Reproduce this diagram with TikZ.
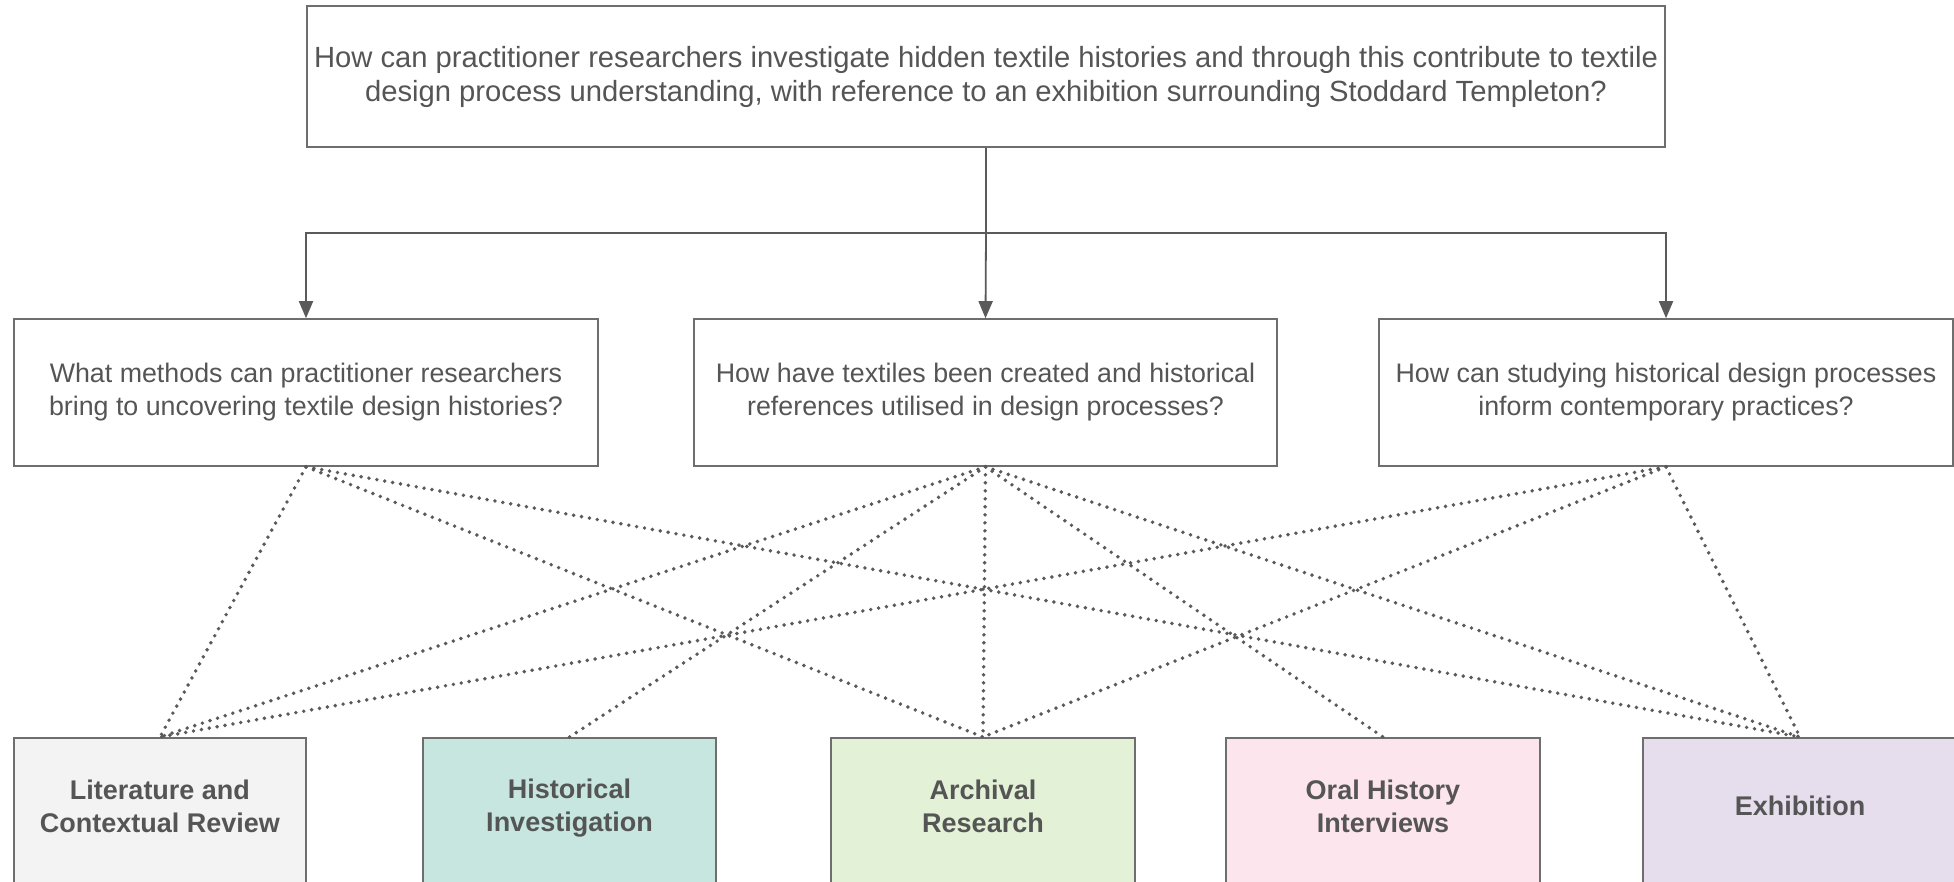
\documentclass[tikz,border=0pt]{standalone}
\usepackage{fontspec}
\setmainfont{Liberation Sans}
\usetikzlibrary{arrows.meta}
\definecolor{linegray}{HTML}{5A5A5A}
\definecolor{boxgray}{HTML}{6E6E6E}
\definecolor{txtgray}{HTML}{555555}
\definecolor{litfill}{HTML}{F3F3F3}
\definecolor{histfill}{HTML}{C6E6DF}
\definecolor{archfill}{HTML}{E3F1D6}
\definecolor{oralfill}{HTML}{FCE5ED}
\definecolor{exhfill}{HTML}{E6DDED}
\tikzset{
  qbox/.style={draw=boxgray, line width=1.6, fill=white, inner sep=0, align=center,
    text=txtgray, font=\fontsize{26.8}{33}\selectfont},
  topbox/.style={qbox, font=\fontsize{29.2}{34}\selectfont},
  mbox/.style={draw=boxgray, line width=1.8, inner sep=0, anchor=north, minimum height=170},
  mtext/.style={inner sep=0, align=center, text=txtgray, font=\bfseries\fontsize{27}{33}\selectfont},
  solidlink/.style={draw=linegray, line width=1.8, -{Triangle[width=14,length=17]}},
  dotlink/.style={draw=linegray, line width=3.9, line cap=round, dash pattern=on 0pt off 8pt}
}
\begin{document}
\begin{tikzpicture}[x=1pt, y=-1pt]
\useasboundingbox (0,0) rectangle (1954,881);
\fill[white] (0,0) rectangle (1954,881);
% top question
\node[topbox, minimum width=1358, minimum height=141] (top) at (986,76.5)
  {How can practitioner researchers investigate hidden textile histories and through this contribute to textile\\design process understanding, with reference to an exhibition surrounding Stoddard Templeton?};
% sub questions
\node[qbox, minimum width=584, minimum height=147] (q1) at (306,392.5)
  {What methods can practitioner researchers\\bring to uncovering textile design histories?};
\node[qbox, minimum width=583, minimum height=147] (q2) at (985.5,392.5)
  {How have textiles been created and historical\\references utilised in design processes?};
\node[qbox, minimum width=574, minimum height=147] (q3) at (1666,392.5)
  {How can studying historical design processes\\inform contemporary practices?};
% solid connectors
\coordinate (hub) at (986,233);
\draw[linegray, line width=1.8] (top.south) -- (hub);
\draw[solidlink] (hub) -| (q1.north);
\draw[solidlink] (hub) -- (q2.north);
\draw[solidlink] (hub) -| (q3.north);
% method boxes
\node[mbox, fill=litfill, minimum width=292] (lit) at (160,737) {};
\node[mbox, fill=histfill, minimum width=293] (hist) at (569.5,737) {};
\node[mbox, fill=archfill, minimum width=304] (arch) at (983,737) {};
\node[mbox, fill=oralfill, minimum width=314] (oral) at (1383,737) {};
\node[mbox, fill=exhfill, minimum width=314] (exh) at (1800,737) {};
\node[mtext] (littext) at (160,806) {Literature and\\Contextual Review};
\node[mtext] (histtext) at (569.5,808) {Historical\\Investigation};
\node[mtext] (archtext) at (983,806) {Archival\\Research};
\node[mtext] (oraltext) at (1383,806) {Oral History\\Interviews};
\node[mtext] (exhtext) at (1800,806) {Exhibition};
% dotted connectors
\draw[dotlink] (q1.south) -- (lit.north);
\draw[dotlink] (q1.south) -- (arch.north);
\draw[dotlink] (q1.south) -- (exh.north);
\draw[dotlink] (q2.south) -- (lit.north);
\draw[dotlink] (q2.south) -- (hist.north);
\draw[dotlink] (q2.south) -- (arch.north);
\draw[dotlink] (q2.south) -- (oral.north);
\draw[dotlink] (q2.south) -- (exh.north);
\draw[dotlink] (q3.south) -- (lit.north);
\draw[dotlink] (q3.south) -- (arch.north);
\draw[dotlink] (q3.south) -- (exh.north);
\end{tikzpicture}
\end{document}
